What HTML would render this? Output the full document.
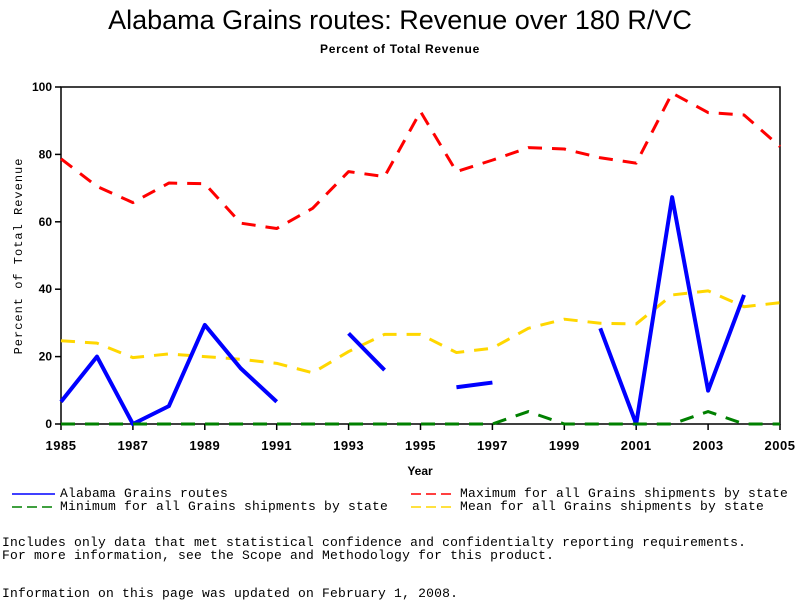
<!DOCTYPE html>
<html><head><meta charset="utf-8"><style>
body{margin:0;background:#fff;width:800px;height:600px;overflow:hidden;position:relative;font-family:"Liberation Sans",sans-serif}
.t{position:absolute;white-space:pre;margin:0}
.mono{font-family:"Liberation Mono",monospace;font-size:13px;letter-spacing:0.2px;color:#000}
</style></head><body>
<div class="t" style="left:0;width:800px;text-align:center;top:5px;font-size:27px">Alabama Grains routes: Revenue over 180 R/VC</div>
<div class="t" style="left:0;width:800px;text-align:center;top:42px;font-size:12px;font-weight:bold;letter-spacing:0.7px">Percent of Total Revenue</div>
<svg id="chart" width="800" height="600" style="position:absolute;left:0;top:0"></svg>
<div class="t mono" style="left:60px;top:486px">Alabama Grains routes</div>
<div class="t mono" style="left:60px;top:499px">Minimum for all Grains shipments by state</div>
<div class="t mono" style="left:460px;top:486px">Maximum for all Grains shipments by state</div>
<div class="t mono" style="left:460px;top:499px">Mean for all Grains shipments by state</div>
<div class="t mono" style="left:2px;top:535px">Includes only data that met statistical confidence and confidentialty reporting requirements.</div>
<div class="t mono" style="left:2px;top:548px">For more information, see the Scope and Methodology for this product.</div>
<div class="t mono" style="left:2px;top:586px">Information on this page was updated on February 1, 2008.</div>
<script>
const years=[1985,1986,1987,1988,1989,1990,1991,1992,1993,1994,1995,1996,1997,1998,1999,2000,2001,2002,2003,2004,2005];
const alabama=[6.6,20,0,5.3,29.4,16.5,6.6,null,26.9,16,null,10.9,12.3,null,null,28.4,0,67.3,9.9,38.3,null];
const maximum=[78.7,70.5,65.7,71.5,71.3,59.6,58,64,74.9,73.4,92.7,74.9,78.3,82,81.6,79,77.4,98.2,92.4,91.7,82.3];
const minimum=[0,0,0,0,0,0,0,0,0,0,0,0,0,3.7,0,0,0,0,3.7,0,0];
const mean=[24.7,24,19.7,20.8,20,19.2,18,15.2,21.5,26.6,26.6,21.2,22.5,28.4,31.1,29.9,29.7,38.3,39.5,34.8,36];
const yTicks=[0,20,40,60,80,100];
const xTicks=[1985,1987,1989,1991,1993,1995,1997,1999,2001,2003,2005];
const NS="http://www.w3.org/2000/svg";
const svg=document.getElementById('chart');
const X0=61,X1=780,Y0=424,Y1=87;
const xs=v=>X0+(v-1985)/(2005-1985)*(X1-X0);
const ys=v=>Y0-v/100*(Y0-Y1);
function mk(t,a){const e=document.createElementNS(NS,t);for(const k in a)e.setAttribute(k,a[k]);svg.appendChild(e);return e;}
const frame=mk('rect',{x:X0,y:Y1,width:X1-X0,height:Y0-Y1,fill:'none',stroke:'#000','stroke-width':1.5});


yTicks.forEach(v=>{
 const l=mk('line',{x1:X0-6,x2:X0,y1:ys(v),y2:ys(v),stroke:'#000','stroke-width':1.5});
 
 
 const t=mk('text',{x:X0-9,y:ys(v)+4,'text-anchor':'end','font-size':12,'font-weight':'bold','font-family':'Liberation Sans, sans-serif'});
 t.textContent=v;
 
 
});
xTicks.forEach(v=>{
 const l=mk('line',{x1:xs(v),x2:xs(v),y1:Y0,y2:Y0+6,stroke:'#000','stroke-width':1.5});
 
 
 const t=mk('text',{x:xs(v),y:Y0+26,'text-anchor':'middle','font-size':13,'font-weight':'bold','font-family':'Liberation Sans, sans-serif','letter-spacing':'0.5'});
 t.textContent=v;
 
 
});
const xt=mk('text',{x:420,y:475,'text-anchor':'middle','font-size':12,'font-weight':'bold','font-family':'Liberation Sans, sans-serif'});
xt.textContent='Year';


const yt=mk('text',{x:0,y:0,'text-anchor':'middle','font-size':12,'font-family':'Liberation Mono, monospace','letter-spacing':'1',transform:'translate(22,256) rotate(-90)'});
yt.textContent='Percent of Total Revenue';


function series(vals,color,w,dash,name){
 let segs=[],cur=[];
 vals.forEach((v,i)=>{if(v===null){if(cur.length)segs.push(cur);cur=[];}else cur.push([xs(years[i]),ys(v)]);});
 if(cur.length)segs.push(cur);
 segs.forEach(s=>{
  const p=mk('polyline',{points:s.map(q=>q.join(',')).join(' '),fill:'none',stroke:color,'stroke-width':w,'stroke-dasharray':dash||'none','stroke-linejoin':'round'});
  
  
 });
}
series(maximum,'#ff0000',3,'14,10','series-maximum');
series(mean,'#ffd700',3,'14,10','series-mean');
series(alabama,'#0000ff',4,null,'series-alabama');
series(minimum,'#008000',3,'14,10','series-minimum');
function leg(x,y,color,dash,name){
 const l=mk('line',{x1:x,x2:x+43,y1:y,y2:y,stroke:color,'stroke-width':1.5,'stroke-dasharray':dash||'none'});
 
 
}
leg(12,494,'#0000ff',null,'legend-swatch-alabama');
leg(12,507,'#008000','10,5','legend-swatch-minimum');
leg(411,494,'#ff0000','10,5','legend-swatch-maximum');
leg(411,507,'#ffd700','10,5','legend-swatch-mean');
</script>
</body></html>
